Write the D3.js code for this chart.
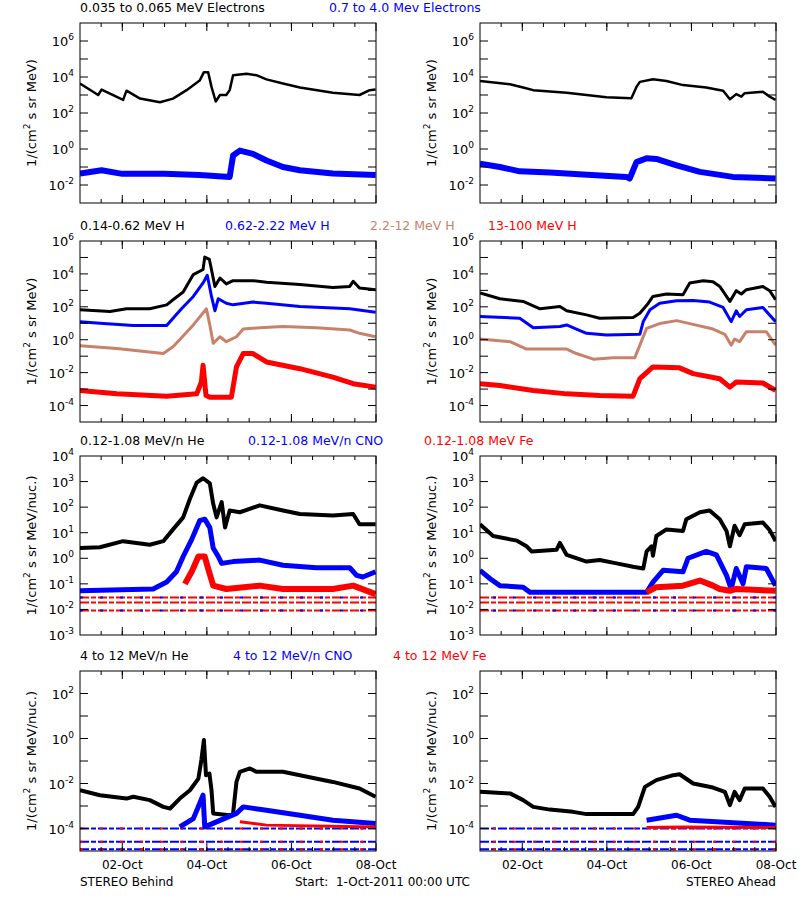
<!DOCTYPE html>
<html><head><meta charset="utf-8">
<script src="https://cdn.jsdelivr.net/npm/d3@7"></script>
<style>body{margin:0;background:#fff}text{font-family:"DejaVu Sans",sans-serif}</style>
</head><body><svg id="c" width="800" height="900"></svg>
<script>
// ---- DATA: [day since 1-Oct-2011 00:00 UTC, log10(intensity)] ----
const b_elecLow = [[0,3.64],[0.43,3.0],[0.51,3.3],[1.02,2.73],[1.10,3.24],[1.42,2.8],[1.89,2.6],[2.20,2.8],[2.52,3.27],[2.83,3.8],[2.93,4.27],[3.03,4.27],[3.11,3.45],[3.21,2.64],[3.31,3.0],[3.46,3.0],[3.54,3.27],[3.62,4.1],[3.94,4.18],[4.17,4.1],[4.41,3.87],[4.80,3.64],[5.20,3.42],[5.98,3.13],[6.61,3.0],[6.85,3.27],[6.99,3.3]];
const b_elecHigh = [[0,-1.36],[0.51,-1.18],[1.0,-1.38],[2.0,-1.38],[2.83,-1.45],[3.54,-1.55],[3.62,-0.36],[3.78,-0.09],[4.09,-0.27],[4.41,-0.64],[4.80,-1.0],[5.20,-1.18],[5.98,-1.36],[6.99,-1.45]];
const a_elecLow = [[0,3.78],[0.71,3.6],[1.02,3.42],[1.26,3.27],[2.05,3.13],[2.52,3.0],[2.99,2.87],[3.58,2.82],[3.70,3.45],[3.78,3.73],[4.09,3.87],[4.41,3.78],[4.80,3.55],[5.35,3.42],[5.75,3.24],[5.91,2.76],[6.06,3.05],[6.18,2.91],[6.26,3.1],[6.69,3.18],[6.85,2.91],[6.99,2.73]];
const a_elecHigh = [[0,-0.82],[0.47,-1.0],[0.94,-1.24],[1.65,-1.3],[2.44,-1.42],[3.46,-1.55],[3.54,-1.64],[3.70,-0.73],[3.94,-0.51],[4.17,-0.55],[4.65,-0.91],[5.20,-1.27],[5.98,-1.55],[6.99,-1.64]];

const b_H1 = [[0,1.82],[0.71,1.71],[1.10,1.88],[1.65,1.88],[2.05,2.12],[2.20,2.43],[2.44,2.9],[2.68,3.96],[2.91,4.27],[2.95,5.02],[3.06,4.88],[3.19,3.24],[3.31,3.75],[3.46,3.39],[3.62,3.59],[4.09,3.59],[4.41,3.49],[5.20,3.35],[5.98,3.18],[6.38,3.24],[6.46,3.55],[6.61,3.14],[6.99,3.04]];
const b_H2 = [[0,1.1],[0.47,1.0],[1.26,0.86],[2.05,0.86],[2.20,1.3],[2.40,1.88],[2.68,2.63],[2.91,3.45],[3.01,3.92],[3.11,2.63],[3.19,1.76],[3.27,2.49],[3.46,2.22],[3.62,2.12],[4.09,2.29],[4.41,2.22],[5.20,2.02],[6.38,1.88],[6.99,1.67]];
const b_H3 = [[0,-0.37],[0.87,-0.53],[1.97,-0.84],[2.20,-0.43],[2.40,0.12],[2.68,0.9],[2.99,1.88],[3.07,0.9],[3.15,-0.22],[3.31,0.18],[3.46,-0.12],[3.70,0.18],[3.86,0.65],[4.25,0.73],[4.80,0.8],[5.59,0.73],[6.38,0.59],[6.61,0.39],[6.99,0.18]];
const b_H4 = [[0,-3.08],[0.87,-3.29],[2.05,-3.43],[2.76,-3.29],[2.87,-2.57],[2.91,-1.55],[2.98,-3.39],[3.07,-3.49],[3.58,-3.49],[3.70,-1.65],[3.86,-0.84],[4.09,-0.84],[4.41,-1.35],[5.20,-1.76],[5.98,-2.27],[6.46,-2.67],[6.99,-2.88]];
const a_H1 = [[0,2.84],[0.47,2.49],[1.02,2.33],[1.42,1.88],[1.89,2.02],[2.05,1.76],[2.52,1.51],[2.83,1.31],[3.62,1.35],[3.78,1.61],[3.98,2.22],[4.09,2.63],[4.41,2.78],[4.80,2.74],[4.96,3.45],[5.28,3.59],[5.51,3.52],[5.67,3.24],[5.91,2.33],[6.06,2.98],[6.18,2.78],[6.30,3.04],[6.69,3.24],[6.85,2.98],[6.99,2.43]];
const a_H2 = [[0,1.41],[0.94,1.31],[1.26,0.73],[1.89,0.8],[2.05,0.9],[2.28,0.65],[2.52,0.39],[2.99,0.29],[3.78,0.33],[3.86,1.1],[4.02,1.82],[4.25,2.22],[4.65,2.37],[5.04,2.39],[5.43,2.29],[5.75,1.96],[5.94,1.1],[6.06,1.76],[6.14,1.41],[6.30,1.82],[6.69,1.96],[6.99,1.1]];
const a_H3 = [[0,0.04],[0.71,-0.12],[1.10,-0.57],[2.05,-0.57],[2.28,-0.84],[2.68,-1.18],[3.15,-1.1],[3.66,-1.1],[3.78,-0.33],[3.94,0.69],[4.25,0.98],[4.65,1.16],[4.96,0.98],[5.51,0.65],[5.79,0.33],[5.94,-0.33],[6.02,0.04],[6.14,-0.12],[6.30,0.49],[6.77,0.49],[6.99,-0.33]];
const a_H4 = [[0,-2.67],[0.47,-2.78],[1.26,-3.08],[2.05,-3.29],[2.83,-3.39],[3.62,-3.43],[3.78,-2.37],[4.09,-1.65],[4.72,-1.71],[5.04,-2.06],[5.67,-2.37],[5.91,-2.88],[6.06,-2.57],[6.69,-2.63],[6.99,-3.08]];

const b_He = [[0,0.4],[0.47,0.43],[1.02,0.67],[1.65,0.53],[1.97,0.67],[2.20,1.13],[2.44,1.6],[2.60,2.33],[2.76,2.96],[2.91,3.13],[3.07,2.93],[3.15,2.13],[3.23,1.6],[3.35,2.2],[3.43,1.2],[3.54,1.87],[3.78,1.8],[4.25,2.07],[4.80,1.87],[5.20,1.73],[5.98,1.67],[6.46,1.73],[6.61,1.33],[6.99,1.33]];
const b_CNO = [[0,-1.27],[1.73,-1.2],[2.05,-0.93],[2.28,-0.53],[2.44,0.07],[2.64,0.73],[2.83,1.47],[2.95,1.53],[3.07,1.2],[3.15,0.4],[3.27,0.07],[3.35,-0.2],[3.62,-0.13],[4.25,-0.07],[4.80,-0.27],[5.59,-0.37],[6.38,-0.37],[6.54,-0.67],[6.69,-0.73],[6.99,-0.53]];
const b_Fe = [[2.48,-1.0],[2.64,-0.53],[2.80,0.07],[2.95,0.07],[3.03,-0.4],[3.15,-1.07],[3.46,-1.2],[4.25,-1.07],[4.80,-1.2],[5.98,-1.2],[6.46,-1.07],[6.99,-1.4]];
const a_He = [[0,1.33],[0.31,0.87],[0.87,0.69],[1.10,0.47],[1.22,0.27],[1.81,0.33],[1.89,0.6],[2.05,0.13],[2.52,-0.13],[2.83,-0.07],[3.23,-0.2],[3.62,-0.33],[3.86,-0.4],[3.94,0.27],[4.06,0.47],[4.09,0.1],[4.17,0.87],[4.41,1.13],[4.80,1.07],[4.88,1.53],[5.20,1.8],[5.43,1.87],[5.67,1.53],[5.83,1.07],[5.91,0.47],[6.02,1.27],[6.14,0.9],[6.26,1.33],[6.69,1.4],[6.85,1.1],[6.99,0.67]];
const a_CNO = [[0,-0.47],[0.24,-0.8],[0.47,-1.07],[1.02,-1.13],[1.18,-1.33],[3.94,-1.33],[4.09,-0.93],[4.33,-0.47],[4.80,-0.53],[4.92,0.0],[5.35,0.27],[5.59,0.13],[5.83,-0.67],[5.94,-1.2],[6.06,-0.4],[6.22,-1.0],[6.30,-0.33],[6.77,-0.4],[6.99,-1.07]];
const a_Fe = [[3.94,-1.33],[4.17,-1.13],[4.80,-1.07],[5.20,-0.87],[5.51,-1.07],[5.67,-1.2],[5.91,-1.27],[6.06,-1.2],[6.99,-1.27]];
const floorLow = [-1.53, -1.73, -2.04];

const b_He4 = [[0,-2.3],[0.47,-2.52],[1.10,-2.67],[1.26,-2.59],[1.65,-2.74],[1.97,-3.04],[2.13,-3.11],[2.36,-2.67],[2.60,-2.3],[2.80,-1.78],[2.87,-0.96],[2.93,-0.07],[2.98,-1.63],[3.06,-1.56],[3.11,-2.3],[3.15,-3.33],[3.54,-3.41],[3.62,-3.33],[3.70,-1.93],[3.78,-1.48],[4.02,-1.33],[4.17,-1.48],[4.80,-1.48],[5.20,-1.63],[5.98,-1.93],[6.61,-2.22],[6.99,-2.59]];
const b_CNO4 = [[2.36,-3.93],[2.68,-3.56],[2.83,-2.89],[2.91,-2.52],[2.95,-3.93],[3.70,-3.33],[3.86,-3.04],[4.41,-3.19],[5.20,-3.41],[5.98,-3.63],[6.99,-3.78]];
const b_Fe4 = [[3.78,-3.7],[4.41,-3.85],[6.99,-3.93]];
const a_He4 = [[0,-2.37],[0.71,-2.44],[1.02,-2.74],[1.26,-3.04],[1.65,-3.16],[2.20,-3.26],[2.52,-3.36],[3.62,-3.36],[3.74,-3.04],[3.90,-2.15],[4.17,-1.85],[4.57,-1.63],[4.72,-1.59],[5.04,-2.0],[5.51,-2.18],[5.79,-2.37],[5.91,-2.96],[6.02,-2.37],[6.14,-2.74],[6.26,-2.22],[6.69,-2.22],[6.85,-2.59],[6.99,-3.04]];
const a_CNO4 = [[3.94,-3.63],[4.65,-3.41],[4.96,-3.63],[6.99,-3.85]];
const a_Fe4 = [[3.94,-3.96],[4.80,-3.93],[6.99,-3.96]];
const floorHigh = [-4.0, -4.59, -4.92];

const dayTicks = ["2011-10-02","2011-10-04","2011-10-06","2011-10-08"];

// ---- LAYOUT ----
const svg = d3.select("#c");
const cols = [80, 480], W = 296;
const rows = [
 {y0:23,y1:203,dom:[-3,7],labels:[6,4,2,0,-2],unit:"MeV)",titles:[["0.035 to 0.065 MeV Electrons","#000",80],["0.7 to 4.0 Mev Electrons","#00f",329]],
  series:[[b_elecLow,a_elecLow,"#000",2.5],[b_elecHigh,a_elecHigh,"#00f",6]]},
 {y0:241,y1:422,dom:[-5,6],labels:[6,4,2,0,-2,-4],unit:"MeV)",titles:[["0.14-0.62 MeV H","#000",80],["0.62-2.22 MeV H","#00f",225],["2.2-12 MeV H","#c8826a",370],["13-100 MeV H","#f00",488]],
  series:[[b_H1,a_H1,"#000",3],[b_H2,a_H2,"#00f",3],[b_H3,a_H3,"#c8826a",3],[b_H4,a_H4,"#f00",5]]},
 {y0:456,y1:635,dom:[-3,4],labels:[4,3,2,1,0,-1,-2,-3],unit:"MeV/nuc.)",floor:floorLow,fcol:["#f00","#00f"],titles:[["0.12-1.08 MeV/n He","#000",80],["0.12-1.08 MeV/n CNO","#00f",248],["0.12-1.08 MeV Fe","#f00",424]],
  series:[[b_He,a_He,"#000",4],[b_CNO,a_CNO,"#00f",5],[b_Fe,a_Fe,"#f00",6]]},
 {y0:671,y1:851,dom:[-5,3],labels:[2,0,-2,-4],unit:"MeV/nuc.)",floor:floorHigh,fcol:["#00f","#f00"],titles:[["4 to 12 MeV/n He","#000",80],["4 to 12 MeV/n CNO","#00f",233],["4 to 12 MeV Fe","#f00",393]],
  series:[[b_He4,a_He4,"#000",4],[b_CNO4,a_CNO4,"#00f",5],[b_Fe4,a_Fe4,"#f00",3]]}
];
const t0 = Date.UTC(2011,9,1);
const toDate = d => new Date(t0 + d*864e5);

rows.forEach(r=>{
  r.titles.forEach(t=>svg.append("text").attr("x",t[2]).attr("y",r.y0-11).attr("fill",t[1]).attr("font-size",12.5).text(t[0]));
  cols.forEach((x0,ci)=>{
    const x = d3.scaleUtc().domain([toDate(0),toDate(7)]).range([x0,x0+W]);
    const y = d3.scaleLinear().domain(r.dom).range([r.y1,r.y0]);
    const g = svg.append("g");
    const clip = "cl"+r.y0+"_"+ci;
    g.append("clipPath").attr("id",clip).append("rect").attr("x",x0).attr("y",r.y0).attr("width",W).attr("height",r.y1-r.y0);
    const pg = g.append("g").attr("clip-path",`url(#${clip})`);
    if(r.floor){
      r.floor.forEach((lv,i)=>{
        pg.append("line").attr("x1",x0).attr("x2",x0+W).attr("y1",y(lv)).attr("y2",y(lv))
          .attr("stroke",r.fcol[0]).attr("stroke-width",2).attr("stroke-dasharray","9,2,5,2");
        if(i!==1 || r.y0>600) pg.append("line").attr("x1",x0).attr("x2",x0+W).attr("y1",y(lv)).attr("y2",y(lv))
          .attr("stroke",r.fcol[1]).attr("stroke-width",2).attr("stroke-dasharray","3,17").attr("stroke-dashoffset",ci*7);
      });
    }
    const line = d3.line().x(d=>x(toDate(d[0]))).y(d=>y(d[1]));
    r.series.forEach(s=>{
      const data = s[ci];
      pg.append("path").attr("d",line(data)).attr("fill","none").attr("stroke",s[2]).attr("stroke-width",s[3]).attr("stroke-linejoin","round");
    });
    g.append("rect").attr("x",x0).attr("y",r.y0).attr("width",W).attr("height",r.y1-r.y0).attr("fill","none").attr("stroke","#000");
    const minor = d3.range(1,14).map(i=>toDate(i*0.5));
    const major = dayTicks.map(s=>new Date(s+"T00:00:00Z"));
    [[r.y1,-1],[r.y0,1]].forEach(([yy,dir])=>{
      minor.forEach(d=>g.append("line").attr("x1",x(d)).attr("x2",x(d)).attr("y1",yy).attr("y2",yy+dir*4).attr("stroke","#000"));
      major.forEach(d=>g.append("line").attr("x1",x(d)).attr("x2",x(d)).attr("y1",yy).attr("y2",yy+dir*8).attr("stroke","#000"));
    });
    if(r.y0>600){
      major.forEach(d=>svg.append("text").attr("x",x(d)).attr("y",r.y1+18).attr("text-anchor","middle").attr("font-size",12).text(d3.utcFormat("%d-%b")(d)));
    }
    d3.range(r.dom[0]+1,r.dom[1]).forEach(e=>{
      g.append("line").attr("x1",x0).attr("x2",x0+8).attr("y1",y(e)).attr("y2",y(e)).attr("stroke","#000");
      g.append("line").attr("x1",x0+W).attr("x2",x0+W-8).attr("y1",y(e)).attr("y2",y(e)).attr("stroke","#000");
    });
    r.labels.forEach(e=>{
      const t = g.append("text").attr("x",x0-6).attr("y",y(e)+5).attr("text-anchor","end").attr("font-size",13);
      t.append("tspan").text("10");
      t.append("tspan").attr("font-size",9).attr("dy",-6).text(String(e));
    });
    const yl = g.append("text").attr("transform",`translate(${x0-44},${(r.y0+r.y1)/2}) rotate(-90)`).attr("text-anchor","middle").attr("font-size",13);
    yl.append("tspan").text("1/(cm");
    yl.append("tspan").attr("font-size",9).attr("dy",-6).text("2");
    yl.append("tspan").attr("dy",6).text(" s sr "+r.unit);
  });
});
svg.append("text").attr("x",80).attr("y",886).attr("font-size",12).text("STEREO Behind");
svg.append("text").attr("x",295).attr("y",886).attr("font-size",12).attr("xml:space","preserve").text("Start:  1-Oct-2011 00:00 UTC");
svg.append("text").attr("x",776).attr("y",886).attr("text-anchor","end").attr("font-size",12).text("STEREO Ahead");
</script></body></html>
